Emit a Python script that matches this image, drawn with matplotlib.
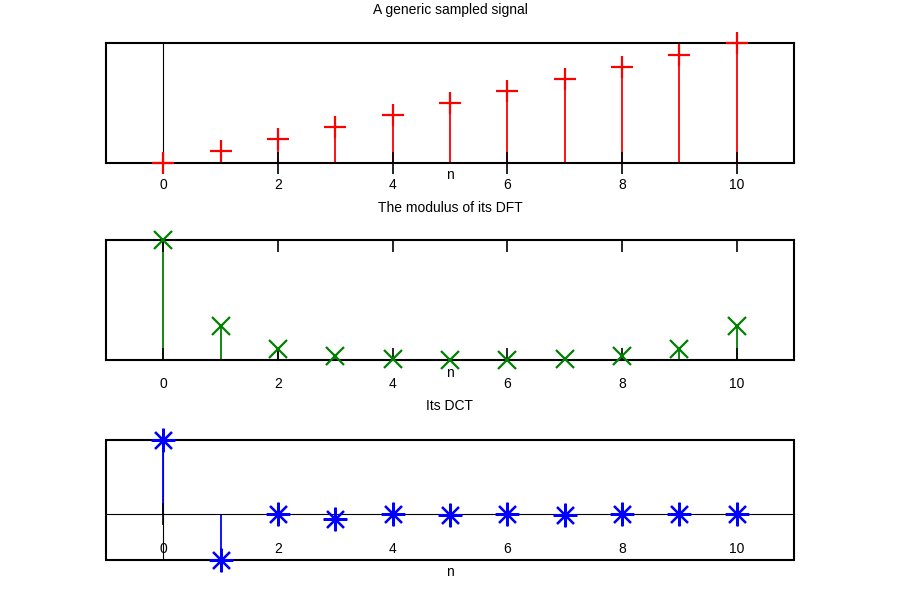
import matplotlib
matplotlib.use("Agg")
import matplotlib.pyplot as plt
from matplotlib.patches import Rectangle

plt.rcParams["font.family"] = ["Liberation Sans", "DejaVu Sans"]
plt.rcParams["font.size"] = 10

# sample index and the three series
n = [0, 1, 2, 3, 4, 5, 6, 7, 8, 9, 10]
signal = [0, 1, 2, 3, 4, 5, 6, 7, 8, 9, 10]
dft_mod = [55.0, 19.5, 10.2, 7.3, 6.0, 5.6, 5.6, 6.0, 7.3, 10.2, 19.5]
dct = [16.6, -10.4, 0.0, -1.1, 0.0, -0.3, 0.0, -0.2, 0.0, -0.1, 0.0]

xticks = [0, 2, 4, 6, 8, 10]
titles = ["A generic sampled signal", "The modulus of its DFT", "Its DCT"]
xlabel = "n"


def stem_panel(ax, values, color, marker, ms):
    """Impulses from y=0 plus point markers, gnuplot style."""
    ax.vlines(n, 0, values, color=color, lw=1.3, zorder=2)
    ax.plot(n, values, ls="none", marker=marker, ms=ms, mew=1.6,
            color=color, clip_on=False, zorder=3)
    ax.set_xlim(-1, 11)
    ax.set_ylim(min(values), max(values))
    ax.set_yticks([])
    ax.set_xticks(xticks)
    ax.set_axisbelow(False)
    for sp in ax.spines.values():
        sp.set_linewidth(1.5)


fig = plt.figure(figsize=(9, 6), dpi=100)
W = 0.7644
L = 0.1178

# top: the signal
ax1 = fig.add_axes([L, 0.7283, W, 0.2])
stem_panel(ax1, signal, "red", "+", 16)
ax1.axvline(0, color="black", lw=0.8, zorder=1.8)
ax1.tick_params(axis="x", direction="inout", length=16, width=1.2, pad=3)

# middle: DFT modulus
ax2 = fig.add_axes([L, 0.4, W, 0.2])
stem_panel(ax2, dft_mod, "green", "x", 12.5)
ax2.tick_params(axis="x", direction="in", top=True, length=8.5, width=1.2, pad=12)

# bottom: DCT, x axis on the zero line
ax3 = fig.add_axes([L, 0.0667, W, 0.2])
stem_panel(ax3, dct, "blue", (8, 2, 0), 17)
for side in ["top", "left", "right"]:
    ax3.spines[side].set_visible(False)
ax3.spines["bottom"].set_position(("data", 0))
ax3.spines["bottom"].set_linewidth(0.8)
ax3.axvline(0, color="black", lw=0.8, zorder=1.8)
ax3.add_patch(Rectangle((0, 0), 1, 1, transform=ax3.transAxes, fill=False,
                        ec="black", lw=1.5, clip_on=False, zorder=2.6))
ax3.tick_params(axis="x", direction="inout", length=16, width=1.2, pad=12)

for ypix, t in zip([10, 208, 406], titles):
    fig.text(0.5, 1 - ypix / 600, t, ha="center", va="center")
for ypix in [175, 373, 572]:
    fig.text(0.5, 1 - ypix / 600, xlabel, ha="center", va="center")

fig.savefig("out.png", dpi=100, facecolor="white")
